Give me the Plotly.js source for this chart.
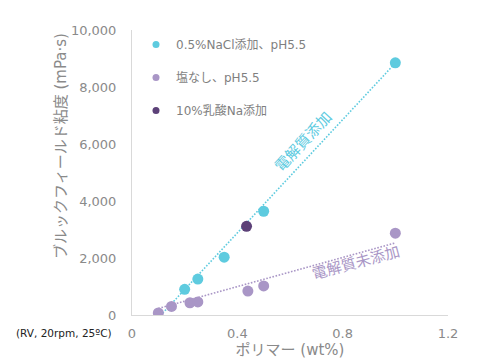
<!DOCTYPE html>
<html>
<head>
<meta charset="utf-8">
<script src="https://cdn.plot.ly/plotly-3.0.1.min.js"></script>
<style>html,body{margin:0;padding:0;background:#fff;}#chart{width:483px;height:363px;}</style>
</head>
<body>
<div id="chart"></div>
<script>
// Data
const naclX = [0.2, 0.25, 0.35, 0.5, 1.0];
const naclY = [900, 1260, 2030, 3640, 8850];
const noSaltX = [0.1, 0.15, 0.22, 0.25, 0.44, 0.5, 1.0];
const noSaltY = [70, 300, 430, 460, 840, 1020, 2870];
const lactateX = [0.435];
const lactateY = [3110];
// Trend lines (end points)
const trendAddedX = [0.1, 1.0];
const trendAddedY = [-100, 8840];
const trendNoneX = [0.1, 1.0];
const trendNoneY = [230, 2530];

const names = ['0.5%NaCl添加、pH5.5', '塩なし、pH5.5', '10%乳酸Na添加'];
const colors = ['#5ECBDF', '#A996C6', '#5C4178'];
const xTicks = [0, 0.4, 0.8, 1.2];
const xTickText = ['0', '0.4', '0.8', '1.2'];
const yTicks = [0, 2000, 4000, 6000, 8000, 10000];
const yTickText = ['0', '2,000', '4,000', '6,000', '8,000', '10,000'];

const FONT = 'DejaVu Sans, Noto Sans CJK JP, sans-serif';
const GREY = '#8a8a8a';

// plot-area geometry (pixels) used to place paper-referenced texts
const W = 483, H = 363, ML = 132, MR = 35, MT = 30, MB = 48;
const px = x => (x - ML) / (W - ML - MR);
const py = y => (H - MB - y) / (H - MT - MB);

const traces = [
  {x: trendAddedX, y: trendAddedY, mode: 'lines', showlegend: false, hoverinfo: 'skip',
   line: {color: colors[0], width: 1.6, dash: '1.6px,1.6px'}},
  {x: trendNoneX, y: trendNoneY, mode: 'lines', showlegend: false, hoverinfo: 'skip',
   line: {color: colors[1], width: 1.6, dash: '1.6px,1.6px'}},
  {x: naclX, y: naclY, mode: 'markers', showlegend: false, name: names[0],
   marker: {color: colors[0], size: 11}},
  {x: noSaltX, y: noSaltY, mode: 'markers', showlegend: false, name: names[1],
   marker: {color: colors[1], size: 11}},
  {x: lactateX, y: lactateY, mode: 'markers', showlegend: false, name: names[2],
   marker: {color: colors[2], size: 11}},
  // legend entries (small markers)
  {x: [null], y: [null], mode: 'markers', name: names[0], legendgroup: 'a', marker: {color: colors[0], size: 7}},
  {x: [null], y: [null], mode: 'markers', name: names[1], legendgroup: 'b', marker: {color: colors[1], size: 7}},
  {x: [null], y: [null], mode: 'markers', name: names[2], legendgroup: 'c', marker: {color: colors[2], size: 7}}
];

const layout = {
  width: W, height: H,
  margin: {l: ML, r: MR, t: MT, b: MB, pad: 0},
  paper_bgcolor: '#fff', plot_bgcolor: '#fff',
  font: {family: FONT, color: GREY, size: 13},
  showlegend: true,
  legend: {x: px(136), y: 1.0, xanchor: 'left', yanchor: 'top', xref: 'paper', yref: 'paper',
           bgcolor: 'rgba(0,0,0,0)', font: {size: 12, color: '#7f7f7f', family: FONT},
           tracegroupgap: 14, itemwidth: 30},
  xaxis: {range: [0, 1.2], tickvals: xTicks, ticktext: xTickText, showgrid: false, zeroline: false,
          showline: true, linecolor: '#d9d9d9', linewidth: 1, ticks: '', ticklabelstandoff: 6,
          tickfont: {size: 13, color: GREY},
          title: {text: 'ポリマー (wt%)', font: {size: 15, color: GREY}, standoff: 0}},
  yaxis: {range: [0, 10000], tickvals: yTicks, ticktext: yTickText, showgrid: false, zeroline: false,
          showline: true, linecolor: '#d9d9d9', linewidth: 1, ticks: '', ticklabelstandoff: 12,
          tickfont: {size: 13, color: GREY}},
  annotations: [
    {x: 0.65, y: 6070, xref: 'x', yref: 'y', text: '電解質添加', showarrow: false, textangle: -47,
     font: {size: 15, color: colors[0], family: FONT}},
    {x: 0.85, y: 1820, xref: 'x', yref: 'y', text: '電解質未添加', showarrow: false, textangle: -15,
     font: {size: 15, color: colors[1], family: FONT}},
    {x: px(14), y: py(333), xref: 'paper', yref: 'paper', xanchor: 'left', yanchor: 'middle',
     text: '(RV, 20rpm, 25ºC)', showarrow: false,
     font: {size: 10.5, color: '#222', family: FONT}},
    {x: px(61), y: py(146), xref: 'paper', yref: 'paper', xanchor: 'center', yanchor: 'middle',
     text: 'ブルックフィールド粘度 (mPa·s)', showarrow: false, textangle: -90,
     font: {size: 15, color: GREY, family: FONT}}
  ]
};

Plotly.newPlot('chart', traces, layout, {displayModeBar: false, staticPlot: true});
</script>
</body>
</html>
